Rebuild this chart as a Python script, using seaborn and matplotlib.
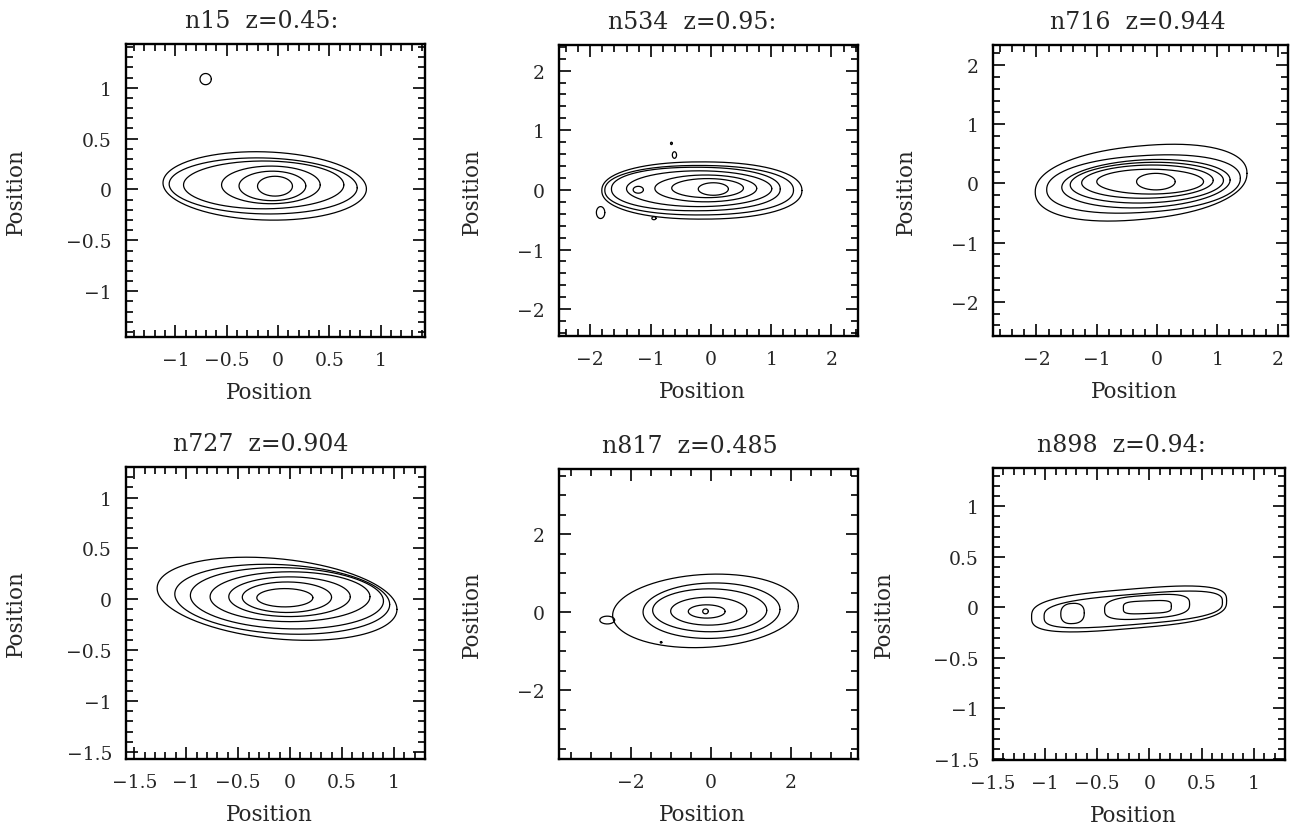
import numpy as np
import pandas as pd
import matplotlib
matplotlib.use("Agg")
import matplotlib.pyplot as plt
import seaborn as sns
from matplotlib.ticker import MultipleLocator, FuncFormatter

# panel titles
titles = ["n15  z=0.45:", "n534  z=0.95:", "n716  z=0.944",
          "n727  z=0.904", "n817  z=0.485", "n898  z=0.94:"]

# isophote contours:
# (x_left, x_right, y_bottom, y_top, boxiness, tilt)
n15_contours = [
    (-0.20, 0.14, -0.065, 0.13, 2, 0),
    (-0.38, 0.27, -0.11, 0.18, 2, 0),
    (-0.55, 0.41, -0.14, 0.23, 2, 0),
    (-0.92, 0.64, -0.19, 0.28, 2, 0),
    (-1.06, 0.77, -0.24, 0.31, 2, -0.02),
    (-1.12, 0.86, -0.30, 0.37, 2, -0.03),
    (-0.76, -0.65, 1.03, 1.14, 2, 0),
]
n534_contours = [
    (-0.21, 0.29, -0.09, 0.12, 2, 0),
    (-0.65, 0.54, -0.13, 0.19, 2, 0),
    (-0.93, 0.76, -0.20, 0.25, 2, 0),
    (-1.40, 1.01, -0.28, 0.32, 2, 0),
    (-1.65, 1.15, -0.35, 0.38, 2.2, 0),
    (-1.76, 1.37, -0.42, 0.41, 2.2, 0),
    (-1.81, 1.51, -0.49, 0.47, 2.2, 0),
    (-1.29, -1.12, -0.055, 0.06, 2, 0),
    (-1.90, -1.76, -0.48, -0.28, 2, 0),
    (-0.67, -0.64, 0.76, 0.80, 2, 0),
    (-0.64, -0.57, 0.53, 0.64, 2, 0),
    (-0.98, -0.91, -0.50, -0.45, 2, 0),
]
n716_contours = [
    (-0.34, 0.30, -0.11, 0.17, 2, 0),
    (-1.00, 0.77, -0.18, 0.24, 2, 0),
    (-1.25, 0.93, -0.25, 0.31, 2, 0.02),
    (-1.44, 1.10, -0.33, 0.355, 2, 0.03),
    (-1.58, 1.21, -0.41, 0.40, 2, 0.045),
    (-1.83, 1.38, -0.49, 0.47, 2.2, 0.06),
    (-2.02, 1.49, -0.61, 0.635, 2.2, 0.09),
]
n727_contours = [
    (-0.32, 0.22, -0.075, 0.105, 2, 0),
    (-0.46, 0.40, -0.13, 0.17, 2, 0),
    (-0.59, 0.58, -0.17, 0.22, 2, 0),
    (-0.77, 0.77, -0.22, 0.27, 2, 0),
    (-0.96, 0.90, -0.29, 0.31, 2, -0.03),
    (-1.11, 0.96, -0.34, 0.34, 2, -0.05),
    (-1.28, 1.03, -0.39, 0.40, 2, -0.09),
]
n817_contours = [
    (-0.20, -0.06, -0.04, 0.085, 2, 0),
    (-0.56, 0.36, -0.15, 0.19, 2, 0),
    (-1.00, 0.90, -0.33, 0.385, 2, 0),
    (-1.45, 1.40, -0.50, 0.60, 2, 0),
    (-1.69, 1.73, -0.67, 0.75, 2, 0.02),
    (-2.45, 2.19, -0.90, 0.97, 2, 0.05),
    (-2.77, -2.40, -0.30, -0.10, 2, 0),
    (-1.26, -1.22, -0.79, -0.75, 2, 0),
]
n898_contours = [
    (-0.25, 0.21, -0.06, 0.065, 4, 0.04),
    (-0.85, -0.625, -0.16, 0.04, 2.5, 0.05),
    (-0.43, 0.385, -0.11, 0.12, 3, 0.07),
    (-1.01, 0.70, -0.17, 0.13, 3, 0.085),
    (-1.13, 0.74, -0.21, 0.18, 3, 0.085),
]
contours = [n15_contours, n534_contours, n716_contours,
            n727_contours, n817_contours, n898_contours]

xlims = [(-1.48, 1.43), (-2.52, 2.44), (-2.72, 2.17),
         (-1.58, 1.30), (-3.79, 3.68), (-1.50, 1.30)]
ylims = [(-1.45, 1.43), (-2.45, 2.43), (-2.58, 2.34),
         (-1.57, 1.30), (-3.76, 3.67), (-1.51, 1.38)]
major_step = [0.5, 1, 1, 0.5, 2, 0.5]
minor_step = [0.1, 0.2, 0.2, 0.1, 0.5, 0.1]

# layout in pixels: left, top, right, bottom
W, H = 1298, 829
boxes = [(126, 45, 425, 338), (559, 46, 858, 337), (993, 46, 1288, 337),
         (126, 468, 425, 760), (559, 470, 858, 760), (993, 469, 1285, 761)]
title_x = [0.454, 0.444, 0.49, 0.45, 0.438, 0.438]
ylab_off = [99, 76, 76, 99, 76, 98]


def contour_frame(shapes):
    t = np.linspace(0, 2 * np.pi, 241)
    c, s = np.cos(t), np.sin(t)
    parts = []
    for cid, (xl, xr, yb, yt, p, tilt) in enumerate(shapes):
        xc, yc = (xl + xr) / 2, (yb + yt) / 2
        a, b = (xr - xl) / 2, (yt - yb) / 2
        x = xc + a * np.sign(c) * np.abs(c) ** (2 / p)
        y = yc + b * np.sign(s) * np.abs(s) ** (2 / p) + tilt * (x - xc)
        parts.append(pd.DataFrame({"x": x, "y": y, "cid": cid}))
    return pd.concat(parts, ignore_index=True)


sns.set_style("ticks")
plt.rcParams["font.family"] = ["DejaVu Serif"]
plt.rcParams["axes.unicode_minus"] = True

fmt = FuncFormatter(lambda v, pos: f"{round(v, 6) + 0:g}".replace("-", "\u2212"))

fig = plt.figure(figsize=(W / 100, H / 100), dpi=100)
for i in range(6):
    l, t, r, b = boxes[i]
    ax = fig.add_axes([l / W, 1 - b / H, (r - l) / W, (b - t) / H])
    df = contour_frame(contours[i])
    sns.lineplot(data=df, x="x", y="y", units="cid", estimator=None, sort=False,
                 color="black", linewidth=0.9, ax=ax, legend=False)
    ax.set_xlim(*xlims[i])
    ax.set_ylim(*ylims[i])
    for axis in (ax.xaxis, ax.yaxis):
        axis.set_major_locator(MultipleLocator(major_step[i]))
        axis.set_minor_locator(MultipleLocator(minor_step[i]))
        axis.set_major_formatter(fmt)
    ax.tick_params(which="both", direction="in", top=True, right=True,
                   color="black", width=1.2, labelsize=13.5, pad=10)
    ax.tick_params(which="major", length=8.5)
    ax.tick_params(which="minor", length=4.8)
    for sp in ax.spines.values():
        sp.set_linewidth(1.7)
        sp.set_color("black")
    ax.set_xlabel("Position", fontsize=15.5)
    ax.set_ylabel("Position", fontsize=15.5)
    ax.xaxis.set_label_coords(0.48, -44 / (b - t))
    ax.yaxis.set_label_coords(-ylab_off[i] / (r - l), 0.5)
    ax.set_title(titles[i], fontsize=17, x=title_x[i], pad=12)

fig.savefig("out.png", dpi=100)
